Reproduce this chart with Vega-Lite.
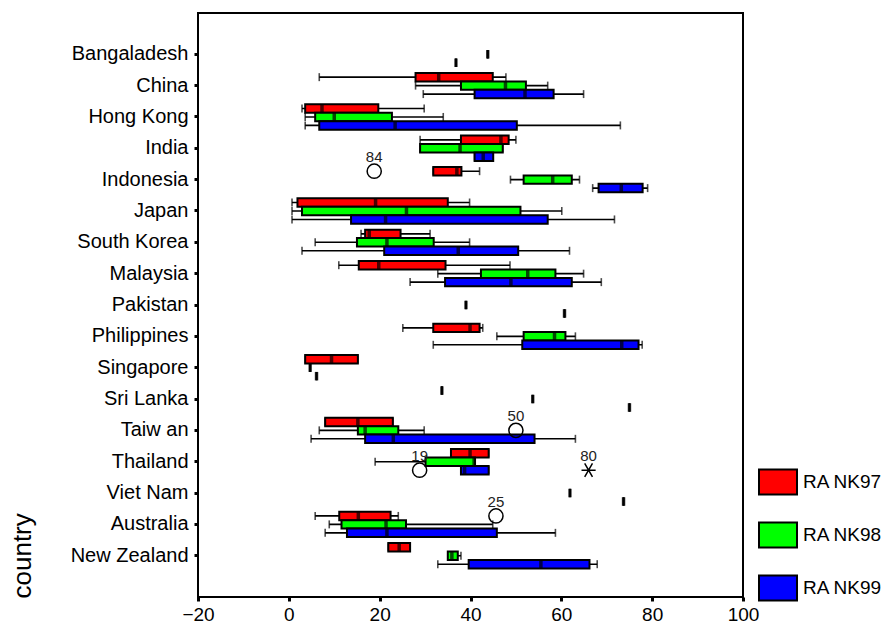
{
  "$schema": "https://vega.github.io/schema/vega-lite/v6.json",
  "width": 545,
  "height": 584,
  "autosize": {"type": "none"},
  "padding": {"left": 198, "top": 13, "right": 143, "bottom": 27},
  "config": {
    "view": {"stroke": "black", "strokeWidth": 2},
    "font": "Liberation Sans",
    "axis": {"labelFont": "Liberation Sans", "titleFont": "Liberation Sans"},
    "legend": {"labelFont": "Liberation Sans"}
  },
  "datasets": {
    "boxes": [
      {"country": "Bangaladesh", "rank": "RA NK98", "lo": 43.8, "q1": 43.8, "med": 43.8, "q3": 43.8, "hi": 43.8},
      {"country": "Bangaladesh", "rank": "RA NK99", "lo": 36.8, "q1": 36.8, "med": 36.8, "q3": 36.8, "hi": 36.8},
      {"country": "China", "rank": "RA NK97", "lo": 6.7, "q1": 27.9, "med": 33, "q3": 44.9, "hi": 47.8},
      {"country": "China", "rank": "RA NK98", "lo": 27.9, "q1": 37.9, "med": 47.7, "q3": 52.2, "hi": 57},
      {"country": "China", "rank": "RA NK99", "lo": 29.6, "q1": 40.9, "med": 52, "q3": 58.3, "hi": 64.9},
      {"country": "Hong Kong", "rank": "RA NK97", "lo": 2.9, "q1": 3.6, "med": 7.3, "q3": 19.7, "hi": 29.8},
      {"country": "Hong Kong", "rank": "RA NK98", "lo": 3.6, "q1": 5.8, "med": 10, "q3": 22.7, "hi": 34},
      {"country": "Hong Kong", "rank": "RA NK99", "lo": 3.6, "q1": 6.7, "med": 23.4, "q3": 50.2, "hi": 73},
      {"country": "India", "rank": "RA NK97", "lo": 28.9, "q1": 37.9, "med": 46.7, "q3": 48.4, "hi": 50},
      {"country": "India", "rank": "RA NK98", "lo": 28.9, "q1": 28.9, "med": 37.7, "q3": 47.1, "hi": 47.1},
      {"country": "India", "rank": "RA NK99", "lo": 40.9, "q1": 40.9, "med": 42.8, "q3": 45, "hi": 45},
      {"country": "Indonesia", "rank": "RA NK97", "lo": 31.8, "q1": 31.8, "med": 37, "q3": 38, "hi": 42},
      {"country": "Indonesia", "rank": "RA NK98", "lo": 48.8, "q1": 51.7, "med": 58.1, "q3": 62.3, "hi": 64},
      {"country": "Indonesia", "rank": "RA NK99", "lo": 66.9, "q1": 68.2, "med": 73.2, "q3": 77.9, "hi": 79},
      {"country": "Japan", "rank": "RA NK97", "lo": 0.7, "q1": 1.9, "med": 19.1, "q3": 35, "hi": 39.8},
      {"country": "Japan", "rank": "RA NK98", "lo": 0.7, "q1": 2.9, "med": 25.9, "q3": 51, "hi": 60.1},
      {"country": "Japan", "rank": "RA NK99", "lo": 0.7, "q1": 13.7, "med": 21.3, "q3": 57, "hi": 71.7},
      {"country": "South Korea", "rank": "RA NK97", "lo": 15.9, "q1": 16.8, "med": 17.7, "q3": 24.6, "hi": 31.1},
      {"country": "South Korea", "rank": "RA NK98", "lo": 5.8, "q1": 15, "med": 21.6, "q3": 31.9, "hi": 39.8},
      {"country": "South Korea", "rank": "RA NK99", "lo": 2.9, "q1": 21, "med": 37.3, "q3": 50.5, "hi": 61.8},
      {"country": "Malaysia", "rank": "RA NK97", "lo": 11, "q1": 15.4, "med": 19.8, "q3": 34.5, "hi": 48.7},
      {"country": "Malaysia", "rank": "RA NK98", "lo": 32.8, "q1": 42.3, "med": 52.6, "q3": 58.7, "hi": 64.9},
      {"country": "Malaysia", "rank": "RA NK99", "lo": 26.7, "q1": 34.4, "med": 48.9, "q3": 62.3, "hi": 68.8},
      {"country": "Pakistan", "rank": "RA NK98", "lo": 39, "q1": 39, "med": 39, "q3": 39, "hi": 39},
      {"country": "Pakistan", "rank": "RA NK99", "lo": 60.7, "q1": 60.7, "med": 60.7, "q3": 60.7, "hi": 60.7},
      {"country": "Philippines", "rank": "RA NK97", "lo": 25.1, "q1": 31.8, "med": 39.9, "q3": 42, "hi": 42.7},
      {"country": "Philippines", "rank": "RA NK98", "lo": 45.8, "q1": 51.7, "med": 58.5, "q3": 60.9, "hi": 63.1},
      {"country": "Philippines", "rank": "RA NK99", "lo": 31.8, "q1": 51.4, "med": 73.3, "q3": 77, "hi": 77.8},
      {"country": "Singapore", "rank": "RA NK97", "lo": 3.6, "q1": 3.6, "med": 9.4, "q3": 15.2, "hi": 15.2},
      {"country": "Singapore", "rank": "RA NK98", "lo": 4.7, "q1": 4.7, "med": 4.7, "q3": 4.7, "hi": 4.7},
      {"country": "Singapore", "rank": "RA NK99", "lo": 6.1, "q1": 6.1, "med": 6.1, "q3": 6.1, "hi": 6.1},
      {"country": "Sri Lanka", "rank": "RA NK97", "lo": 33.7, "q1": 33.7, "med": 33.7, "q3": 33.7, "hi": 33.7},
      {"country": "Sri Lanka", "rank": "RA NK98", "lo": 53.7, "q1": 53.7, "med": 53.7, "q3": 53.7, "hi": 53.7},
      {"country": "Sri Lanka", "rank": "RA NK99", "lo": 75, "q1": 75, "med": 75, "q3": 75, "hi": 75},
      {"country": "Taiw an", "rank": "RA NK97", "lo": 8, "q1": 8, "med": 15.2, "q3": 22.9, "hi": 22.9},
      {"country": "Taiw an", "rank": "RA NK98", "lo": 6.7, "q1": 15.2, "med": 16.8, "q3": 24.1, "hi": 29.8},
      {"country": "Taiw an", "rank": "RA NK99", "lo": 4.9, "q1": 16.8, "med": 23, "q3": 54.1, "hi": 63.1},
      {"country": "Thailand", "rank": "RA NK97", "lo": 35.7, "q1": 35.7, "med": 39.9, "q3": 44, "hi": 44},
      {"country": "Thailand", "rank": "RA NK98", "lo": 19, "q1": 30.1, "med": 40.8, "q3": 41, "hi": 41},
      {"country": "Thailand", "rank": "RA NK99", "lo": 37.9, "q1": 37.9, "med": 38.7, "q3": 44, "hi": 44},
      {"country": "Viet Nam", "rank": "RA NK98", "lo": 61.9, "q1": 61.9, "med": 61.9, "q3": 61.9, "hi": 61.9},
      {"country": "Viet Nam", "rank": "RA NK99", "lo": 73.7, "q1": 73.7, "med": 73.7, "q3": 73.7, "hi": 73.7},
      {"country": "Australia", "rank": "RA NK97", "lo": 5.8, "q1": 11.1, "med": 15.3, "q3": 22.4, "hi": 24.1},
      {"country": "Australia", "rank": "RA NK98", "lo": 8.9, "q1": 11.6, "med": 21.4, "q3": 25.8, "hi": 44.9},
      {"country": "Australia", "rank": "RA NK99", "lo": 8, "q1": 12.8, "med": 21.6, "q3": 45.8, "hi": 58.7},
      {"country": "New Zealand", "rank": "RA NK97", "lo": 21.9, "q1": 21.9, "med": 24.3, "q3": 26.7, "hi": 26.7},
      {"country": "New Zealand", "rank": "RA NK98", "lo": 35, "q1": 35, "med": 35.9, "q3": 37.2, "hi": 37.9},
      {"country": "New Zealand", "rank": "RA NK99", "lo": 32.8, "q1": 39.6, "med": 55.5, "q3": 66.2, "hi": 67.9}
    ],
    "outliers": [
      {"country": "Indonesia", "rank": "RA NK97", "value": 18.8, "label": "84", "kind": "outlier"},
      {"country": "Taiw an", "rank": "RA NK98", "value": 50, "label": "50", "kind": "outlier"},
      {"country": "Thailand", "rank": "RA NK99", "value": 28.8, "label": "19", "kind": "outlier"},
      {"country": "Thailand", "rank": "RA NK99", "value": 66, "label": "80", "kind": "extreme"},
      {"country": "Australia", "rank": "RA NK97", "value": 45.6, "label": "25", "kind": "outlier"}
    ]
  },
  "encoding": {
    "y": {
      "field": "country",
      "type": "nominal",
      "scale": {
        "domain": ["Bangaladesh", "China", "Hong Kong", "India", "Indonesia", "Japan", "South Korea", "Malaysia", "Pakistan", "Philippines", "Singapore", "Sri Lanka", "Taiw an", "Thailand", "Viet Nam", "Australia", "New Zealand"],
        "paddingInner": 0.19,
        "paddingOuter": 0.912
      },
      "axis": {
        "title": "country",
        "titleFontSize": 26,
        "titleFontWeight": "normal",
        "titleColor": "black",
        "titleAngle": 270,
        "titleX": -176,
        "titleY": 585,
        "titleAlign": "left",
        "titleBaseline": "middle",
        "labelFontSize": 20,
        "labelColor": "black",
        "labelPadding": 6,
        "tickSize": 4,
        "tickWidth": 3,
        "tickColor": "black",
        "domain": false
      }
    },
    "yOffset": {
      "field": "rank",
      "type": "nominal",
      "scale": {"domain": ["RA NK97", "RA NK98", "RA NK99"], "paddingInner": 0, "paddingOuter": 0}
    }
  },
  "layer": [
    {
      "data": {"name": "boxes"},
      "mark": {"type": "rule", "color": "black", "strokeWidth": 1.6},
      "encoding": {
        "x": {
          "field": "lo",
          "type": "quantitative",
          "scale": {"domain": [-20, 100], "nice": false, "zero": false},
          "axis": {
            "values": [-20, 0, 20, 40, 60, 80, 100],
            "title": null,
            "grid": false,
            "domain": false,
            "tickSize": 4,
            "tickWidth": 3,
            "tickColor": "black",
            "labelFontSize": 19,
            "labelColor": "black",
            "labelPadding": 4,
            "labelFlush": false
          }
        },
        "x2": {"field": "hi"}
      }
    },
    {
      "data": {"name": "boxes"},
      "mark": {"type": "tick", "color": "black", "thickness": 1.6, "size": 8},
      "encoding": {"x": {"field": "lo", "type": "quantitative", "title": null}}
    },
    {
      "data": {"name": "boxes"},
      "mark": {"type": "tick", "color": "black", "thickness": 1.6, "size": 8},
      "encoding": {"x": {"field": "hi", "type": "quantitative", "title": null}}
    },
    {
      "data": {"name": "boxes"},
      "mark": {"type": "bar", "stroke": "black", "strokeWidth": 2, "opacity": 1},
      "encoding": {
        "x": {"field": "q1", "type": "quantitative", "title": null},
        "x2": {"field": "q3"},
        "color": {
          "field": "rank",
          "type": "nominal",
          "scale": {"domain": ["RA NK97", "RA NK98", "RA NK99"], "range": ["#ff0000", "#00ff00", "#0000ff"]},
          "legend": {
            "orient": "none",
            "legendX": 560,
            "legendY": 449,
            "title": null,
            "padding": 0,
            "symbolType": "M-1,-0.66H1V0.66H-1Z",
            "symbolSize": 1444,
            "symbolStrokeColor": "black",
            "symbolStrokeWidth": 2,
            "symbolOpacity": 1,
            "labelFontSize": 19,
            "labelColor": "black",
            "labelOffset": 5,
            "rowPadding": 16
          }
        }
      }
    },
    {
      "data": {"name": "boxes"},
      "mark": {"type": "tick", "color": "black", "thickness": 3.5, "size": 8.5},
      "encoding": {"x": {"field": "med", "type": "quantitative", "title": null}}
    },
    {
      "data": {"name": "outliers"},
      "mark": {"type": "point", "filled": false, "stroke": "black", "strokeWidth": 1.5, "size": 200, "opacity": 1},
      "encoding": {
        "x": {"field": "value", "type": "quantitative", "title": null},
        "shape": {
          "field": "kind",
          "type": "nominal",
          "scale": {"domain": ["outlier", "extreme"], "range": ["circle", "M-1,0H1M-0.55,-0.95L0.55,0.95M-0.55,0.95L0.55,-0.95"]},
          "legend": null
        }
      }
    },
    {
      "data": {"name": "outliers"},
      "mark": {"type": "text", "dy": -14, "fontSize": 15, "color": "#222"},
      "encoding": {
        "x": {"field": "value", "type": "quantitative", "title": null},
        "text": {"field": "label"}
      }
    }
  ]
}
